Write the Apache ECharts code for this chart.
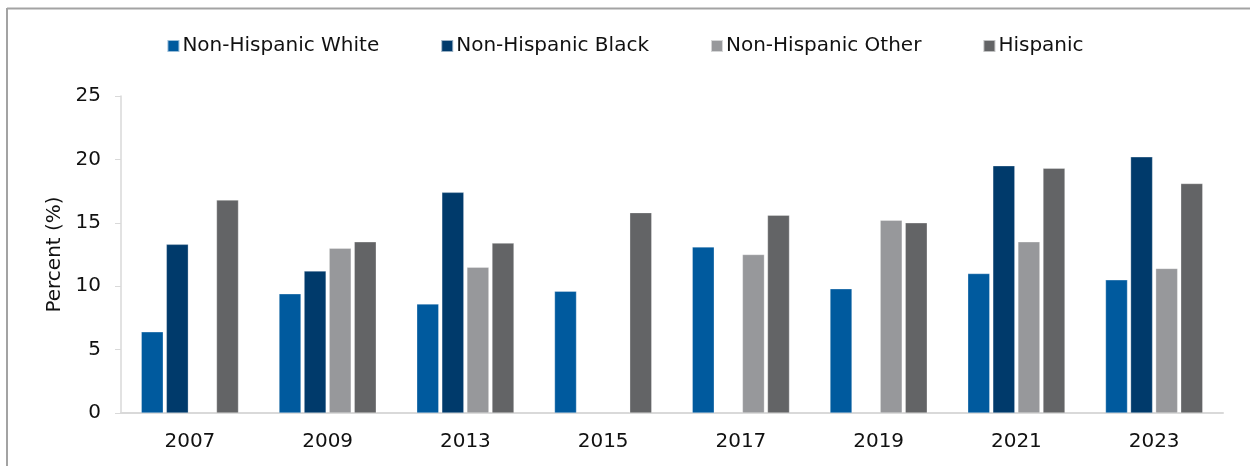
<!DOCTYPE html>
<html>
<head>
<meta charset="utf-8">
<script src="https://cdn.jsdelivr.net/npm/echarts@6/dist/echarts.min.js"></script>
<style>html,body{margin:0;padding:0;background:#fff}#c{width:1250px;height:466px}</style>
</head>
<body>
<div id="c"></div>
<script>
const categories = ['2007','2009','2013','2015','2017','2019','2021','2023'];
const nhWhite = [6.4, 9.4, 8.6, 9.6, 13.1, 9.8, 11.0, 10.5];
const nhBlack = [13.3, 11.2, 17.4, null, null, null, 19.5, 20.2];
const nhOther = [null, 13.0, 11.5, null, 12.5, 15.2, 13.5, 11.4];
const hispanic = [16.8, 13.5, 13.4, 15.8, 15.6, 15.0, 19.3, 18.1];
const seriesNames = ['Non-Hispanic White','Non-Hispanic Black','Non-Hispanic Other','Hispanic'];
const colors = ['#005a9e','#003a6b','#97989b','#636466'];
const yTicks = [0,5,10,15,20,25];

const FONT = 'DejaVu Sans';
const chart = echarts.init(document.getElementById('c'));
const mk = (name, data, color) => ({
  name, type: 'bar', data,
  barWidth: 22, barGap: '14%',
  itemStyle: { color, borderColor: 'rgba(255,255,255,0.6)', borderWidth: 0.5 }
});
chart.setOption({
  animation: false,
  textStyle: { fontFamily: FONT },
  legend: {
    top: 31, left: 'center',
    itemWidth: 12, itemHeight: 12, itemGap: 61,
    icon: 'rect',
    textStyle: { fontFamily: FONT, fontSize: 20, color: '#111', padding: [0,0,0,-2] },
    data: seriesNames
  },
  grid: { left: 121, right: 27, top: 96, bottom: 53, containLabel: false },
  xAxis: {
    type: 'category', data: categories,
    axisLine: { lineStyle: { color: '#d9d9d9', width: 2 } },
    axisTick: { show: false },
    axisLabel: { fontFamily: FONT, fontSize: 20, color: '#111', margin: 19 }
  },
  yAxis: {
    type: 'value', min: yTicks[0], max: yTicks[yTicks.length-1], interval: 5,
    name: 'Percent (%)', nameLocation: 'middle', nameGap: 55,
    nameTextStyle: { fontFamily: FONT, fontSize: 20, color: '#111' },
    axisLine: { show: true, lineStyle: { color: '#d9d9d9', width: 1.5 } },
    axisTick: { show: true, length: 6, lineStyle: { color: '#d9d9d9' } },
    splitLine: { show: false },
    axisLabel: { fontFamily: FONT, fontSize: 20, color: '#111', margin: 20 }
  },
  series: [
    mk(seriesNames[0], nhWhite, colors[0]),
    mk(seriesNames[1], nhBlack, colors[1]),
    mk(seriesNames[2], nhOther, colors[2]),
    mk(seriesNames[3], hispanic, colors[3])
  ],
  graphic: [
    { type: 'line', shape: { x1: 7, y1: 8.5, x2: 1250, y2: 8.5 }, style: { stroke: '#a3a3a3', lineWidth: 2 } },
    { type: 'line', shape: { x1: 7, y1: 8, x2: 7, y2: 466 }, style: { stroke: '#a3a3a3', lineWidth: 2 } }
  ]
});
</script>
</body>
</html>
